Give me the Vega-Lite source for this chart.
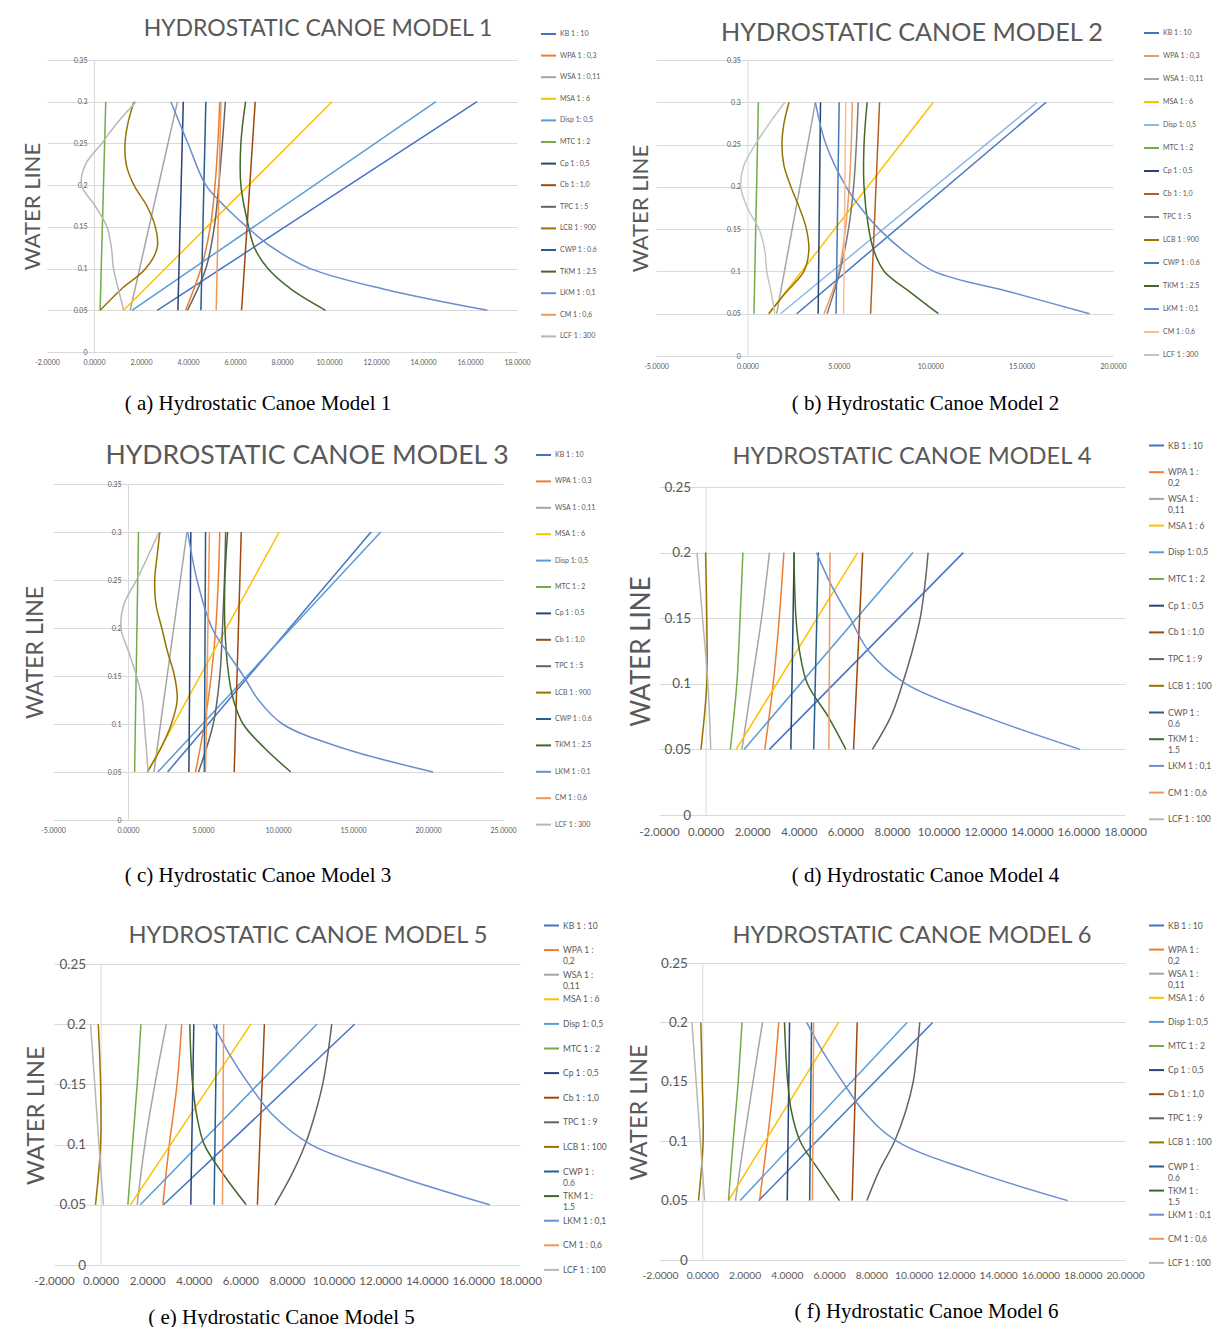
{
"$schema": "https://vega.github.io/schema/vega-lite/v6.json",
"background": "white",
"autosize": {"type": "pad"},
"padding": {"left": 21, "top": 17, "right": 0, "bottom": 0},
"config": {
  "view": {"stroke": null},
  "font": "Lato",
  "title": {"color": "#595959", "fontWeight": "normal", "font": "Lato", "baseline": "alphabetic", "anchor": "middle", "frame": "group"},
  "axis": {"labelColor": "#595959", "titleColor": "#595959", "titleFontWeight": "normal", "labelFont": "Lato", "titleFont": "Lato", "ticks": false, "gridColor": "#D9D9D9", "domainColor": "#D9D9D9", "labelOverlap": false, "labelBound": false, "labelFlush": false, "titleAlign": "center", "titleBaseline": "middle"},
  "axisX": {"grid": false, "domain": false, "titleFont": "Liberation Serif", "titleColor": "#000000", "titleFontSize": 21},
  "axisY": {"grid": true, "domain": true, "titleAngle": 270},
  "legend": {"title": null, "symbolType": "stroke", "symbolSize": 225, "symbolStrokeWidth": 2, "labelColor": "#595959", "labelFont": "Lato", "labelOffset": 3, "padding": 0, "gridAlign": "all", "labelLimit": 300}
},
"datasets": {
"m1": [
{"s":"KB","y":0.05,"x":2.69},{"s":"KB","y":0.3,"x":16.30},
{"s":"WPA","y":0.05,"x":3.90},{"s":"WPA","y":0.1,"x":4.55},{"s":"WPA","y":0.15,"x":4.95},{"s":"WPA","y":0.2,"x":5.15},{"s":"WPA","y":0.25,"x":5.27},{"s":"WPA","y":0.3,"x":5.35},
{"s":"WSA","y":0.05,"x":1.54},{"s":"WSA","y":0.3,"x":3.55},
{"s":"MSA","y":0.05,"x":1.26},{"s":"MSA","y":0.3,"x":10.13},
{"s":"Disp","y":0.05,"x":1.62},{"s":"Disp","y":0.3,"x":14.55},
{"s":"MTC","y":0.05,"x":0.26},{"s":"MTC","y":0.3,"x":0.50},
{"s":"Cp","y":0.05,"x":3.57},{"s":"Cp","y":0.3,"x":3.80},
{"s":"Cb","y":0.05,"x":6.28},{"s":"Cb","y":0.3,"x":6.86},
{"s":"TPC","y":0.05,"x":3.98},{"s":"TPC","y":0.1,"x":4.76},{"s":"TPC","y":0.15,"x":5.12},{"s":"TPC","y":0.2,"x":5.31},{"s":"TPC","y":0.25,"x":5.46},{"s":"TPC","y":0.3,"x":5.59},
{"s":"LCB","y":0.05,"x":0.26},{"s":"LCB","y":0.075,"x":1.15},{"s":"LCB","y":0.1,"x":2.2},{"s":"LCB","y":0.125,"x":2.69},{"s":"LCB","y":0.15,"x":2.61},{"s":"LCB","y":0.175,"x":2.25},{"s":"LCB","y":0.2,"x":1.70},{"s":"LCB","y":0.225,"x":1.37},{"s":"LCB","y":0.25,"x":1.32},{"s":"LCB","y":0.275,"x":1.45},{"s":"LCB","y":0.3,"x":1.70},
{"s":"CWP","y":0.05,"x":4.55},{"s":"CWP","y":0.3,"x":4.76},
{"s":"TKM","y":0.05,"x":9.85},{"s":"TKM","y":0.075,"x":8.4},{"s":"TKM","y":0.1,"x":7.4},{"s":"TKM","y":0.125,"x":6.83},{"s":"TKM","y":0.15,"x":6.58},{"s":"TKM","y":0.2,"x":6.25},{"s":"TKM","y":0.25,"x":6.25},{"s":"TKM","y":0.3,"x":6.45},
{"s":"LKM","y":0.05,"x":16.74},{"s":"LKM","y":0.075,"x":12.4},{"s":"LKM","y":0.1,"x":9.2},{"s":"LKM","y":0.125,"x":7.6},{"s":"LKM","y":0.15,"x":6.5},{"s":"LKM","y":0.175,"x":5.55},{"s":"LKM","y":0.2,"x":4.76},{"s":"LKM","y":0.25,"x":4.0},{"s":"LKM","y":0.3,"x":3.27},
{"s":"CM","y":0.05,"x":5.2},{"s":"CM","y":0.3,"x":5.4},
{"s":"LCF","y":0.05,"x":1.26},{"s":"LCF","y":0.075,"x":1.04},{"s":"LCF","y":0.1,"x":0.83},{"s":"LCF","y":0.125,"x":0.74},{"s":"LCF","y":0.15,"x":0.55},{"s":"LCF","y":0.175,"x":0.05},{"s":"LCF","y":0.2,"x":-0.53},{"s":"LCF","y":0.225,"x":-0.36},{"s":"LCF","y":0.25,"x":0.33},{"s":"LCF","y":0.275,"x":1.0},{"s":"LCF","y":0.3,"x":1.79}
],
"m2": [
{"s":"KB","y":0.05,"x":2.70},{"s":"KB","y":0.3,"x":16.34},
{"s":"WPA","y":0.05,"x":4.19},{"s":"WPA","y":0.1,"x":5.0},{"s":"WPA","y":0.15,"x":5.36},{"s":"WPA","y":0.2,"x":5.57},{"s":"WPA","y":0.25,"x":5.68},{"s":"WPA","y":0.3,"x":5.74},
{"s":"WSA","y":0.05,"x":1.6},{"s":"WSA","y":0.3,"x":3.72},
{"s":"MSA","y":0.05,"x":1.17},{"s":"MSA","y":0.3,"x":10.17},
{"s":"Disp","y":0.05,"x":1.81},{"s":"Disp","y":0.3,"x":15.85},
{"s":"MTC","y":0.05,"x":0.36},{"s":"MTC","y":0.3,"x":0.60},
{"s":"Cp","y":0.05,"x":3.87},{"s":"Cp","y":0.3,"x":4.0},
{"s":"Cb","y":0.05,"x":6.74},{"s":"Cb","y":0.3,"x":7.23},
{"s":"TPC","y":0.05,"x":4.36},{"s":"TPC","y":0.1,"x":5.06},{"s":"TPC","y":0.15,"x":5.53},{"s":"TPC","y":0.2,"x":5.81},{"s":"TPC","y":0.25,"x":5.96},{"s":"TPC","y":0.3,"x":6.06},
{"s":"LCB","y":0.05,"x":1.17},{"s":"LCB","y":0.075,"x":2.1},{"s":"LCB","y":0.1,"x":3.09},{"s":"LCB","y":0.125,"x":3.36},{"s":"LCB","y":0.15,"x":3.23},{"s":"LCB","y":0.175,"x":2.85},{"s":"LCB","y":0.2,"x":2.38},{"s":"LCB","y":0.225,"x":2.0},{"s":"LCB","y":0.25,"x":1.89},{"s":"LCB","y":0.275,"x":2.0},{"s":"LCB","y":0.3,"x":2.28},
{"s":"CWP","y":0.05,"x":4.85},{"s":"CWP","y":0.3,"x":5.02},
{"s":"TKM","y":0.05,"x":10.45},{"s":"TKM","y":0.075,"x":8.94},{"s":"TKM","y":0.1,"x":7.49},{"s":"TKM","y":0.125,"x":6.91},{"s":"TKM","y":0.15,"x":6.64},{"s":"TKM","y":0.2,"x":6.38},{"s":"TKM","y":0.25,"x":6.38},{"s":"TKM","y":0.3,"x":6.55},
{"s":"LKM","y":0.05,"x":18.72},{"s":"LKM","y":0.075,"x":14.5},{"s":"LKM","y":0.1,"x":10.2},{"s":"LKM","y":0.125,"x":8.5},{"s":"LKM","y":0.15,"x":7.2},{"s":"LKM","y":0.175,"x":6.2},{"s":"LKM","y":0.2,"x":5.4},{"s":"LKM","y":0.25,"x":4.3},{"s":"LKM","y":0.3,"x":3.72},
{"s":"CM","y":0.05,"x":5.26},{"s":"CM","y":0.3,"x":5.38},
{"s":"LCF","y":0.05,"x":1.5},{"s":"LCF","y":0.075,"x":1.3},{"s":"LCF","y":0.1,"x":1.06},{"s":"LCF","y":0.125,"x":0.95},{"s":"LCF","y":0.15,"x":0.64},{"s":"LCF","y":0.175,"x":0.0},{"s":"LCF","y":0.2,"x":-0.36},{"s":"LCF","y":0.225,"x":-0.2},{"s":"LCF","y":0.25,"x":0.43},{"s":"LCF","y":0.275,"x":1.2},{"s":"LCF","y":0.3,"x":2.05}
],
"m3": [
{"s":"KB","y":0.05,"x":2.64},{"s":"KB","y":0.3,"x":16.2},
{"s":"WPA","y":0.05,"x":4.5},{"s":"WPA","y":0.1,"x":5.1},{"s":"WPA","y":0.15,"x":5.55},{"s":"WPA","y":0.2,"x":5.85},{"s":"WPA","y":0.25,"x":6.02},{"s":"WPA","y":0.3,"x":6.12},
{"s":"WSA","y":0.05,"x":1.73},{"s":"WSA","y":0.3,"x":3.93},
{"s":"MSA","y":0.05,"x":1.29},{"s":"MSA","y":0.3,"x":10.08},
{"s":"Disp","y":0.05,"x":1.99},{"s":"Disp","y":0.3,"x":16.85},
{"s":"MTC","y":0.05,"x":0.44},{"s":"MTC","y":0.3,"x":0.70},
{"s":"Cp","y":0.05,"x":4.06},{"s":"Cp","y":0.3,"x":4.19},
{"s":"Cb","y":0.05,"x":7.08},{"s":"Cb","y":0.3,"x":7.55},
{"s":"TPC","y":0.05,"x":4.7},{"s":"TPC","y":0.1,"x":5.68},{"s":"TPC","y":0.15,"x":6.12},{"s":"TPC","y":0.2,"x":6.3},{"s":"TPC","y":0.25,"x":6.43},{"s":"TPC","y":0.3,"x":6.51},
{"s":"LCB","y":0.05,"x":1.29},{"s":"LCB","y":0.075,"x":2.2},{"s":"LCB","y":0.1,"x":2.89},{"s":"LCB","y":0.125,"x":3.28},{"s":"LCB","y":0.15,"x":3.10},{"s":"LCB","y":0.175,"x":2.64},{"s":"LCB","y":0.2,"x":2.25},{"s":"LCB","y":0.225,"x":1.86},{"s":"LCB","y":0.25,"x":1.78},{"s":"LCB","y":0.275,"x":1.94},{"s":"LCB","y":0.3,"x":2.12},
{"s":"CWP","y":0.05,"x":5.09},{"s":"CWP","y":0.3,"x":5.17},
{"s":"TKM","y":0.05,"x":10.85},{"s":"TKM","y":0.075,"x":9.1},{"s":"TKM","y":0.1,"x":7.67},{"s":"TKM","y":0.125,"x":7.03},{"s":"TKM","y":0.15,"x":6.72},{"s":"TKM","y":0.2,"x":6.46},{"s":"TKM","y":0.25,"x":6.46},{"s":"TKM","y":0.3,"x":6.64},
{"s":"LKM","y":0.05,"x":20.34},{"s":"LKM","y":0.075,"x":14.3},{"s":"LKM","y":0.1,"x":10.3},{"s":"LKM","y":0.125,"x":8.7},{"s":"LKM","y":0.15,"x":7.7},{"s":"LKM","y":0.175,"x":6.6},{"s":"LKM","y":0.2,"x":5.6},{"s":"LKM","y":0.25,"x":4.6},{"s":"LKM","y":0.3,"x":3.98},
{"s":"CM","y":0.05,"x":5.17},{"s":"CM","y":0.3,"x":5.43},
{"s":"LCF","y":0.05,"x":1.34},{"s":"LCF","y":0.075,"x":1.22},{"s":"LCF","y":0.1,"x":1.09},{"s":"LCF","y":0.125,"x":0.96},{"s":"LCF","y":0.15,"x":0.57},{"s":"LCF","y":0.175,"x":0.05},{"s":"LCF","y":0.2,"x":-0.47},{"s":"LCF","y":0.225,"x":-0.26},{"s":"LCF","y":0.25,"x":0.57},{"s":"LCF","y":0.275,"x":1.34},{"s":"LCF","y":0.3,"x":2.07}
],
"m4": [
{"s":"KB","y":0.05,"x":2.74},{"s":"KB","y":0.2,"x":11.06},
{"s":"WPA","y":0.05,"x":2.54},{"s":"WPA","y":0.1,"x":2.9},{"s":"WPA","y":0.15,"x":3.16},{"s":"WPA","y":0.2,"x":3.36},
{"s":"WSA","y":0.05,"x":1.56},{"s":"WSA","y":0.1,"x":1.98},{"s":"WSA","y":0.15,"x":2.4},{"s":"WSA","y":0.2,"x":2.74},
{"s":"MSA","y":0.05,"x":1.31},{"s":"MSA","y":0.2,"x":6.52},
{"s":"Disp","y":0.05,"x":1.65},{"s":"Disp","y":0.2,"x":8.9},
{"s":"MTC","y":0.05,"x":1.06},{"s":"MTC","y":0.1,"x":1.34},{"s":"MTC","y":0.15,"x":1.48},{"s":"MTC","y":0.2,"x":1.6},
{"s":"Cp","y":0.05,"x":3.66},{"s":"Cp","y":0.2,"x":3.8},
{"s":"Cb","y":0.05,"x":6.35},{"s":"Cb","y":0.2,"x":6.74},
{"s":"TPC","y":0.05,"x":7.16},{"s":"TPC","y":0.075,"x":7.95},{"s":"TPC","y":0.1,"x":8.45},{"s":"TPC","y":0.125,"x":8.87},{"s":"TPC","y":0.15,"x":9.21},{"s":"TPC","y":0.175,"x":9.41},{"s":"TPC","y":0.2,"x":9.55},
{"s":"LCB","y":0.05,"x":-0.2},{"s":"LCB","y":0.1,"x":0.05},{"s":"LCB","y":0.15,"x":0.05},{"s":"LCB","y":0.2,"x":0.0},
{"s":"CWP","y":0.05,"x":4.64},{"s":"CWP","y":0.2,"x":4.84},
{"s":"TKM","y":0.05,"x":6.02},{"s":"TKM","y":0.075,"x":5.26},{"s":"TKM","y":0.1,"x":4.37},{"s":"TKM","y":0.125,"x":4.03},{"s":"TKM","y":0.15,"x":3.88},{"s":"TKM","y":0.175,"x":3.82},{"s":"TKM","y":0.2,"x":3.8},
{"s":"LKM","y":0.05,"x":16.07},{"s":"LKM","y":0.075,"x":12.0},{"s":"LKM","y":0.1,"x":8.6},{"s":"LKM","y":0.125,"x":7.0},{"s":"LKM","y":0.15,"x":6.2},{"s":"LKM","y":0.175,"x":5.4},{"s":"LKM","y":0.2,"x":4.76},
{"s":"CM","y":0.05,"x":5.29},{"s":"CM","y":0.2,"x":5.34},
{"s":"LCF","y":0.05,"x":0.22},{"s":"LCF","y":0.1,"x":0.1},{"s":"LCF","y":0.15,"x":-0.13},{"s":"LCF","y":0.2,"x":-0.37}
],
"m5": [
{"s":"KB","y":0.05,"x":2.7},{"s":"KB","y":0.2,"x":10.9},
{"s":"WPA","y":0.05,"x":2.67},{"s":"WPA","y":0.1,"x":2.95},{"s":"WPA","y":0.15,"x":3.28},{"s":"WPA","y":0.2,"x":3.48},
{"s":"WSA","y":0.05,"x":1.57},{"s":"WSA","y":0.1,"x":1.9},{"s":"WSA","y":0.15,"x":2.33},{"s":"WSA","y":0.2,"x":2.82},
{"s":"MSA","y":0.05,"x":1.28},{"s":"MSA","y":0.2,"x":6.45},
{"s":"Disp","y":0.05,"x":1.7},{"s":"Disp","y":0.2,"x":9.28},
{"s":"MTC","y":0.05,"x":1.17},{"s":"MTC","y":0.1,"x":1.37},{"s":"MTC","y":0.15,"x":1.57},{"s":"MTC","y":0.2,"x":1.73},
{"s":"Cp","y":0.05,"x":3.87},{"s":"Cp","y":0.2,"x":4.0},
{"s":"Cb","y":0.05,"x":6.73},{"s":"Cb","y":0.2,"x":7.03},
{"s":"TPC","y":0.05,"x":7.48},{"s":"TPC","y":0.075,"x":8.2},{"s":"TPC","y":0.1,"x":8.78},{"s":"TPC","y":0.125,"x":9.2},{"s":"TPC","y":0.15,"x":9.53},{"s":"TPC","y":0.175,"x":9.75},{"s":"TPC","y":0.2,"x":9.92},
{"s":"LCB","y":0.05,"x":-0.22},{"s":"LCB","y":0.1,"x":0.0},{"s":"LCB","y":0.15,"x":0.0},{"s":"LCB","y":0.2,"x":-0.1},
{"s":"CWP","y":0.05,"x":4.87},{"s":"CWP","y":0.2,"x":4.98},
{"s":"TKM","y":0.05,"x":6.25},{"s":"TKM","y":0.075,"x":5.28},{"s":"TKM","y":0.1,"x":4.45},{"s":"TKM","y":0.125,"x":4.12},{"s":"TKM","y":0.15,"x":3.95},{"s":"TKM","y":0.175,"x":3.87},{"s":"TKM","y":0.2,"x":3.83},
{"s":"LKM","y":0.05,"x":16.7},{"s":"LKM","y":0.075,"x":12.53},{"s":"LKM","y":0.1,"x":9.03},{"s":"LKM","y":0.125,"x":7.37},{"s":"LKM","y":0.15,"x":6.37},{"s":"LKM","y":0.175,"x":5.53},{"s":"LKM","y":0.2,"x":4.83},
{"s":"CM","y":0.05,"x":5.23},{"s":"CM","y":0.2,"x":5.28},
{"s":"LCF","y":0.05,"x":0.12},{"s":"LCF","y":0.1,"x":-0.07},{"s":"LCF","y":0.15,"x":-0.25},{"s":"LCF","y":0.2,"x":-0.43}
],
"m6": [
{"s":"KB","y":0.05,"x":2.67},{"s":"KB","y":0.2,"x":10.9},
{"s":"WPA","y":0.05,"x":2.71},{"s":"WPA","y":0.1,"x":3.07},{"s":"WPA","y":0.15,"x":3.38},{"s":"WPA","y":0.2,"x":3.62},
{"s":"WSA","y":0.05,"x":1.57},{"s":"WSA","y":0.1,"x":1.97},{"s":"WSA","y":0.15,"x":2.4},{"s":"WSA","y":0.2,"x":2.85},
{"s":"MSA","y":0.05,"x":1.24},{"s":"MSA","y":0.2,"x":6.45},
{"s":"Disp","y":0.05,"x":1.79},{"s":"Disp","y":0.2,"x":9.69},
{"s":"MTC","y":0.05,"x":1.24},{"s":"MTC","y":0.1,"x":1.46},{"s":"MTC","y":0.15,"x":1.7},{"s":"MTC","y":0.2,"x":1.88},
{"s":"Cp","y":0.05,"x":4.02},{"s":"Cp","y":0.2,"x":4.13},
{"s":"Cb","y":0.05,"x":7.09},{"s":"Cb","y":0.2,"x":7.33},
{"s":"TPC","y":0.05,"x":7.79},{"s":"TPC","y":0.075,"x":8.37},{"s":"TPC","y":0.1,"x":9.1},{"s":"TPC","y":0.125,"x":9.62},{"s":"TPC","y":0.15,"x":9.98},{"s":"TPC","y":0.175,"x":10.16},{"s":"TPC","y":0.2,"x":10.29},
{"s":"LCB","y":0.05,"x":-0.18},{"s":"LCB","y":0.1,"x":0.04},{"s":"LCB","y":0.15,"x":0.0},{"s":"LCB","y":0.2,"x":-0.07},
{"s":"CWP","y":0.05,"x":5.08},{"s":"CWP","y":0.2,"x":5.17},
{"s":"TKM","y":0.05,"x":6.49},{"s":"TKM","y":0.075,"x":5.54},{"s":"TKM","y":0.1,"x":4.63},{"s":"TKM","y":0.125,"x":4.22},{"s":"TKM","y":0.15,"x":4.04},{"s":"TKM","y":0.175,"x":3.95},{"s":"TKM","y":0.2,"x":3.89},
{"s":"LKM","y":0.05,"x":17.29},{"s":"LKM","y":0.075,"x":12.76},{"s":"LKM","y":0.1,"x":9.2},{"s":"LKM","y":0.125,"x":7.64},{"s":"LKM","y":0.15,"x":6.64},{"s":"LKM","y":0.175,"x":5.72},{"s":"LKM","y":0.2,"x":4.94},
{"s":"CM","y":0.05,"x":5.21},{"s":"CM","y":0.2,"x":5.27},
{"s":"LCF","y":0.05,"x":0.11},{"s":"LCF","y":0.1,"x":-0.09},{"s":"LCF","y":0.15,"x":-0.29},{"s":"LCF","y":0.2,"x":-0.49}
]
},
"columns": 2,
"spacing": {"row": 128, "column": 136},
"bounds": "flush",
"align": "each",
"resolve": {"scale": {"x": "independent", "y": "independent", "color": "independent"}, "axis": {"x": "independent", "y": "independent"}, "legend": {"color": "independent"}},
"concat": [
{
  "width": 470, "height": 292,
  "data": {"name": "m1"},
  "title": {"text": "HYDROSTATIC CANOE MODEL 1", "fontSize": 23, "dx": 36, "offset": -15},
  "mark": {"type": "line", "strokeWidth": 1.5, "interpolate": "catmull-rom"},
  "encoding": {
    "x": {"field": "x", "type": "quantitative", "scale": {"domain": [-2, 18], "range": [0, 470], "nice": false, "zero": false},
      "axis": {"values": [-2,0,2,4,6,8,10,12,14,16,18], "labelExpr": "replace(format(datum.value,'.4f'),'\u2212','-')", "labelFontSize": 7, "labelPadding": 6, "title": "( a) Hydrostatic Canoe Model 1", "titleX": 210.5, "titleY": 51}},
    "y": {"field": "y", "type": "quantitative", "scale": {"domain": [0, 0.35], "range": [292, 0], "nice": false, "zero": false},
      "axis": {"values": [0,0.05,0.1,0.15,0.2,0.25,0.3,0.35], "format": ".2~f", "labelFontSize": 7, "labelPadding": 7, "offset": -47, "title": "WATER LINE", "titleFontSize": 22, "titleX": -62, "titleY": 146}},
    "color": {"field": "s", "type": "nominal",
      "scale": {"domain": ["KB","WPA","WSA","MSA","Disp","MTC","Cp","Cb","TPC","LCB","CWP","TKM","LKM","CM","LCF"], "range": ["#4472C4","#ED7D31","#A5A5A5","#FFC000","#5B9BD5","#70AD47","#264478","#9E480E","#636363","#997300","#255E91","#43682B","#698ED0","#F1975A","#B7B7B7"]},
      "legend": {"orient": "none", "legendX": 493, "legendY": -34.5, "labelFontSize": 7, "rowPadding": 8.6,
        "labelExpr": "['KB 1 : 10','WPA 1 : 0,3','WSA 1 : 0,11','MSA 1 : 6','Disp 1: 0,5','MTC 1 : 2','Cp 1 : 0,5','Cb 1 : 1,0','TPC 1 : 5','LCB 1 : 900','CWP 1 : 0.6','TKM 1 : 2.5','LKM 1 : 0,1','CM 1 : 0,6','LCF 1 : 300'][indexof(['KB','WPA','WSA','MSA','Disp','MTC','Cp','Cb','TPC','LCB','CWP','TKM','LKM','CM','LCF'], datum.label)]"}},
    "order": {"field": "y", "type": "quantitative"}
  }
},
{
  "width": 457, "height": 296,
  "data": {"name": "m2"},
  "title": {"text": "HYDROSTATIC CANOE MODEL 2", "fontSize": 25.2, "dx": 27.5, "offset": -21.5},
  "mark": {"type": "line", "strokeWidth": 1.5, "interpolate": "catmull-rom"},
  "encoding": {
    "x": {"field": "x", "type": "quantitative", "scale": {"domain": [-5, 20], "range": [0, 457], "nice": false, "zero": false},
      "axis": {"values": [-5,0,5,10,15,20], "labelExpr": "replace(format(datum.value,'.4f'),'\u2212','-')", "labelFontSize": 7, "labelPadding": 6, "title": "( b) Hydrostatic Canoe Model 2", "titleX": 269, "titleY": 47}},
    "y": {"field": "y", "type": "quantitative", "scale": {"domain": [0, 0.35], "range": [296, 0], "nice": false, "zero": false},
      "axis": {"values": [0,0.05,0.1,0.15,0.2,0.25,0.3,0.35], "format": ".2~f", "labelFontSize": 7, "labelPadding": 7, "offset": -91.4, "title": "WATER LINE", "titleFontSize": 22, "titleX": -107.4, "titleY": 148}},
    "color": {"field": "s", "type": "nominal",
      "scale": {"domain": ["KB","WPA","WSA","MSA","Disp","MTC","Cp","Cb","TPC","LCB","CWP","TKM","LKM","CM","LCF"], "range": ["#4472C4","#F19B62","#A5A5A5","#FFC000","#8DB8E2","#70AD47","#264478","#B5601E","#7A7A7A","#997300","#4A78B5","#43682B","#698ED0","#F6BE98","#C4C4C4"]},
      "legend": {"orient": "none", "legendX": 487, "legendY": -35.5, "labelFontSize": 7, "rowPadding": 10,
        "labelExpr": "['KB 1 : 10','WPA 1 : 0,3','WSA 1 : 0,11','MSA 1 : 6','Disp 1: 0,5','MTC 1 : 2','Cp 1 : 0,5','Cb 1 : 1,0','TPC 1 : 5','LCB 1 : 900','CWP 1 : 0.6','TKM 1 : 2.5','LKM 1 : 0,1','CM 1 : 0,6','LCF 1 : 300'][indexof(['KB','WPA','WSA','MSA','Disp','MTC','Cp','Cb','TPC','LCB','CWP','TKM','LKM','CM','LCF'], datum.label)]"}},
    "order": {"field": "y", "type": "quantitative"}
  }
},
{
  "width": 456, "height": 351,
  "data": {"name": "m3"},
  "title": {"text": "HYDROSTATIC CANOE MODEL 3", "fontSize": 26.6, "dx": 32, "offset": -23.5},
  "mark": {"type": "line", "strokeWidth": 1.5, "interpolate": "catmull-rom"},
  "encoding": {
    "x": {"field": "x", "type": "quantitative", "scale": {"domain": [-5, 25], "range": [6, 456], "nice": false, "zero": false},
      "axis": {"values": [-5,0,5,10,15,20,25], "labelExpr": "replace(format(datum.value,'.4f'),'\u2212','-')", "labelFontSize": 7, "labelPadding": 6, "offset": -15, "title": "( c) Hydrostatic Canoe Model 3", "titleX": 210.5, "titleY": 55}},
    "y": {"field": "y", "type": "quantitative", "scale": {"domain": [0, 0.35], "range": [336, 0], "nice": false, "zero": false},
      "axis": {"values": [0,0.05,0.1,0.15,0.2,0.25,0.3,0.35], "format": ".2~f", "labelFontSize": 7, "labelPadding": 7, "offset": -81, "title": "WATER LINE", "titleFontSize": 23, "titleX": -93, "titleY": 168}},
    "color": {"field": "s", "type": "nominal",
      "scale": {"domain": ["KB","WPA","WSA","MSA","Disp","MTC","Cp","Cb","TPC","LCB","CWP","TKM","LKM","CM","LCF"], "range": ["#4472C4","#ED7D31","#A5A5A5","#FFC000","#5B9BD5","#70AD47","#264478","#9E480E","#636363","#997300","#255E91","#43682B","#698ED0","#F1975A","#B7B7B7"]},
      "legend": {"orient": "none", "legendX": 488, "legendY": -37.5, "labelFontSize": 7, "rowPadding": 13.4,
        "labelExpr": "['KB 1 : 10','WPA 1 : 0,3','WSA 1 : 0,11','MSA 1 : 6','Disp 1: 0,5','MTC 1 : 2','Cp 1 : 0,5','Cb 1 : 1,0','TPC 1 : 5','LCB 1 : 900','CWP 1 : 0.6','TKM 1 : 2.5','LKM 1 : 0,1','CM 1 : 0,6','LCF 1 : 300'][indexof(['KB','WPA','WSA','MSA','Disp','MTC','Cp','Cb','TPC','LCB','CWP','TKM','LKM','CM','LCF'], datum.label)]"}},
    "order": {"field": "y", "type": "quantitative"}
  }
},
{
  "width": 469, "height": 351,
  "data": {"name": "m4"},
  "title": {"text": "HYDROSTATIC CANOE MODEL 4", "fontSize": 23.7, "dx": 21.5, "offset": -32},
  "mark": {"type": "line", "strokeWidth": 1.5, "interpolate": "catmull-rom"},
  "encoding": {
    "x": {"field": "x", "type": "quantitative", "scale": {"domain": [-2, 18], "range": [3, 469], "nice": false, "zero": false},
      "axis": {"values": [-2,0,2,4,6,8,10,12,14,16,18], "labelExpr": "replace(format(datum.value,'.4f'),'\u2212','-')", "labelFontSize": 11.5, "labelPadding": 11, "offset": -20, "title": "( d) Hydrostatic Canoe Model 4", "titleX": 269, "titleY": 60}},
    "y": {"field": "y", "type": "quantitative", "scale": {"domain": [0, 0.25], "range": [331, 3], "nice": false, "zero": false},
      "axis": {"values": [0,0.05,0.1,0.15,0.2,0.25], "format": ".2~f", "labelFontSize": 13.5, "labelPadding": 15, "offset": -49.6, "title": "WATER LINE", "titleFontSize": 26, "titleX": -64.6, "titleY": 167}},
    "color": {"field": "s", "type": "nominal",
      "scale": {"domain": ["KB","WPA","WSA","MSA","Disp","MTC","Cp","Cb","TPC","LCB","CWP","TKM","LKM","CM","LCF"], "range": ["#4472C4","#ED7D31","#A5A5A5","#FFC000","#5B9BD5","#70AD47","#264478","#9E480E","#636363","#997300","#255E91","#43682B","#698ED0","#F1975A","#B7B7B7"]},
      "legend": {"orient": "none", "legendX": 492, "legendY": -47, "labelFontSize": 8.5, "rowPadding": 2.7,
        "labelExpr": "['KB 1 : 10',['WPA 1 :','0,2'],['WSA 1 :','0,11'],'MSA 1 : 6','Disp 1: 0,5','MTC 1 : 2','Cp 1 : 0,5','Cb 1 : 1,0','TPC 1 : 9','LCB 1 : 100',['CWP 1 :','0.6'],['TKM 1 :','1.5'],'LKM 1 : 0,1','CM 1 : 0,6','LCF 1 : 100'][indexof(['KB','WPA','WSA','MSA','Disp','MTC','Cp','Cb','TPC','LCB','CWP','TKM','LKM','CM','LCF'], datum.label)]",
        "encode": {"labels": {"update": {"lineHeight": {"value": 11}}}}}},
    "order": {"field": "y", "type": "quantitative"}
  }
},
{
  "width": 473, "height": 302,
  "data": {"name": "m5"},
  "title": {"text": "HYDROSTATIC CANOE MODEL 5", "fontSize": 23.7, "dx": 24.5, "offset": -31},
  "mark": {"type": "line", "strokeWidth": 1.5, "interpolate": "catmull-rom"},
  "encoding": {
    "x": {"field": "x", "type": "quantitative", "scale": {"domain": [-2, 18], "range": [7, 473], "nice": false, "zero": false},
      "axis": {"values": [-2,0,2,4,6,8,10,12,14,16,18], "labelExpr": "replace(format(datum.value,'.4f'),'\u2212','-')", "labelFontSize": 11.5, "labelPadding": 10, "title": "( e) Hydrostatic Canoe Model 5", "titleX": 234, "titleY": 52}},
    "y": {"field": "y", "type": "quantitative", "scale": {"domain": [0, 0.25], "range": [302, 1], "nice": false, "zero": false},
      "axis": {"values": [0,0.05,0.1,0.15,0.2,0.25], "format": ".2~f", "labelFontSize": 13.5, "labelPadding": 15, "offset": -53.6, "title": "WATER LINE", "titleFontSize": 24, "titleX": -64.6, "titleY": 152}},
    "color": {"field": "s", "type": "nominal",
      "scale": {"domain": ["KB","WPA","WSA","MSA","Disp","MTC","Cp","Cb","TPC","LCB","CWP","TKM","LKM","CM","LCF"], "range": ["#4472C4","#ED7D31","#A5A5A5","#FFC000","#5B9BD5","#70AD47","#264478","#9E480E","#636363","#997300","#255E91","#43682B","#698ED0","#F1975A","#B7B7B7"]},
      "legend": {"orient": "none", "legendX": 496, "legendY": -46, "labelFontSize": 8.5, "rowPadding": 0.6,
        "labelExpr": "['KB 1 : 10',['WPA 1 :','0,2'],['WSA 1 :','0,11'],'MSA 1 : 6','Disp 1: 0,5','MTC 1 : 2','Cp 1 : 0,5','Cb 1 : 1,0','TPC 1 : 9','LCB 1 : 100',['CWP 1 :','0.6'],['TKM 1 :','1.5'],'LKM 1 : 0,1','CM 1 : 0,6','LCF 1 : 100'][indexof(['KB','WPA','WSA','MSA','Disp','MTC','Cp','Cb','TPC','LCB','CWP','TKM','LKM','CM','LCF'], datum.label)]",
        "encode": {"labels": {"update": {"lineHeight": {"value": 11}}}}}},
    "order": {"field": "y", "type": "quantitative"}
  }
},
{
  "width": 469, "height": 297,
  "data": {"name": "m6"},
  "title": {"text": "HYDROSTATIC CANOE MODEL 6", "fontSize": 23.7, "dx": 21.5, "offset": -31},
  "mark": {"type": "line", "strokeWidth": 1.5, "interpolate": "catmull-rom"},
  "encoding": {
    "x": {"field": "x", "type": "quantitative", "scale": {"domain": [-2, 20], "range": [4, 469], "nice": false, "zero": false},
      "axis": {"values": [-2,0,2,4,6,8,10,12,14,16,18,20], "labelExpr": "replace(format(datum.value,'.4f'),'\u2212','-')", "labelFontSize": 10.3, "labelPadding": 10, "title": "( f) Hydrostatic Canoe Model 6", "titleX": 270, "titleY": 51}},
    "y": {"field": "y", "type": "quantitative", "scale": {"domain": [0, 0.25], "range": [297, 0], "nice": false, "zero": false},
      "axis": {"values": [0,0.05,0.1,0.15,0.2,0.25], "format": ".2~f", "labelFontSize": 13.5, "labelPadding": 15, "offset": -46.3, "title": "WATER LINE", "titleFontSize": 23.5, "titleX": -63.3, "titleY": 149}},
    "color": {"field": "s", "type": "nominal",
      "scale": {"domain": ["KB","WPA","WSA","MSA","Disp","MTC","Cp","Cb","TPC","LCB","CWP","TKM","LKM","CM","LCF"], "range": ["#4472C4","#ED7D31","#A5A5A5","#FFC000","#5B9BD5","#70AD47","#264478","#9E480E","#636363","#997300","#255E91","#43682B","#698ED0","#F1975A","#B7B7B7"]},
      "legend": {"orient": "none", "legendX": 492, "legendY": -46, "labelFontSize": 8.5, "rowPadding": 0.1,
        "labelExpr": "['KB 1 : 10',['WPA 1 :','0,2'],['WSA 1 :','0,11'],'MSA 1 : 6','Disp 1: 0,5','MTC 1 : 2','Cp 1 : 0,5','Cb 1 : 1,0','TPC 1 : 9','LCB 1 : 100',['CWP 1 :','0.6'],['TKM 1 :','1.5'],'LKM 1 : 0,1','CM 1 : 0,6','LCF 1 : 100'][indexof(['KB','WPA','WSA','MSA','Disp','MTC','Cp','Cb','TPC','LCB','CWP','TKM','LKM','CM','LCF'], datum.label)]",
        "encode": {"labels": {"update": {"lineHeight": {"value": 11}}}}}},
    "order": {"field": "y", "type": "quantitative"}
  }
}
]
}
